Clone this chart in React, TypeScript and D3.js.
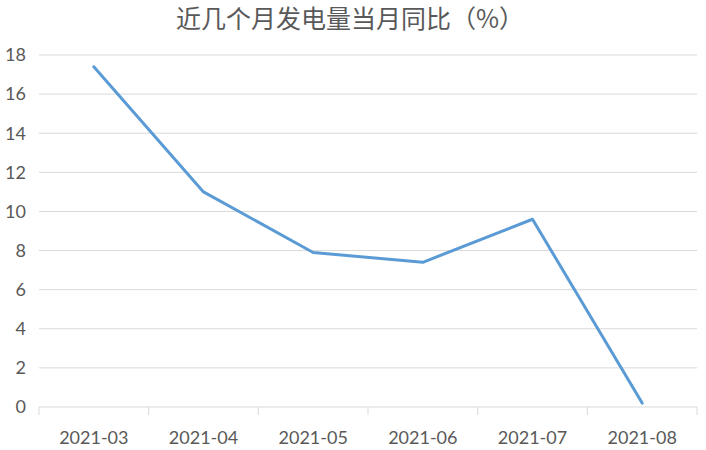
import React from "react";
import * as d3 from "d3";

const categories = ["2021-03", "2021-04", "2021-05", "2021-06", "2021-07", "2021-08"];
const values = [17.4, 11.0, 7.9, 7.4, 9.6, 0.2];
const yTicks = [0, 2, 4, 6, 8, 10, 12, 14, 16, 18];
const title = "近几个月发电量当月同比（%）";

const W = 706;
const H = 450;
const M = { left: 39, right: 9, top: 55, bottom: 43 };

export default function App() {
  const x = d3
    .scaleBand<string>()
    .domain(categories)
    .range([M.left, W - M.right])
    .paddingInner(0)
    .paddingOuter(0);
  const y = d3.scaleLinear().domain([0, 18]).range([H - M.bottom, M.top]);
  const line = d3
    .line<number>()
    .x((_, i) => (x(categories[i]) as number) + x.bandwidth() / 2)
    .y((d) => y(d));
  const font = "Lato, 'Noto Sans', sans-serif";
  const boundaries = [...categories.map((c) => x(c) as number), W - M.right];
  return (
    <svg
      width={W}
      height={H}
      style={{ position: "absolute", left: 0, top: 0, background: "#fff" }}
    >
      <text
        x={350}
        y={28}
        textAnchor="middle"
        fontSize={25}
        fill="#595959"
        fontFamily="'Noto Sans CJK SC', sans-serif"
      >
        {title}
      </text>
      {yTicks.map((t) => (
        <g key={t}>
          {t !== 0 && (
            <line x1={M.left} x2={W - M.right} y1={y(t)} y2={y(t)} stroke="#d9d9d9" strokeWidth={1} />
          )}
          <text
            x={26}
            y={y(t)}
            dy="0.35em"
            textAnchor="end"
            fontSize={18}
            fill="#595959"
            fontFamily={font}
          >
            {t}
          </text>
        </g>
      ))}
      <line x1={M.left} x2={W - M.right} y1={y(0)} y2={y(0)} stroke="#d9d9d9" strokeWidth={1} />
      {boundaries.map((b, i) => (
        <line key={i} x1={b} x2={b} y1={y(0)} y2={y(0) + 8} stroke="#d9d9d9" strokeWidth={1} />
      ))}
      {categories.map((c) => (
        <text
          key={c}
          x={(x(c) as number) + x.bandwidth() / 2}
          y={444}
          textAnchor="middle"
          fontSize={18}
          fill="#595959"
          fontFamily={font}
        >
          {c}
        </text>
      ))}
      <path
        d={line(values) || ""}
        fill="none"
        stroke="#5b9bd5"
        strokeWidth={3}
        strokeLinejoin="round"
        strokeLinecap="round"
      />
    </svg>
  );
}
